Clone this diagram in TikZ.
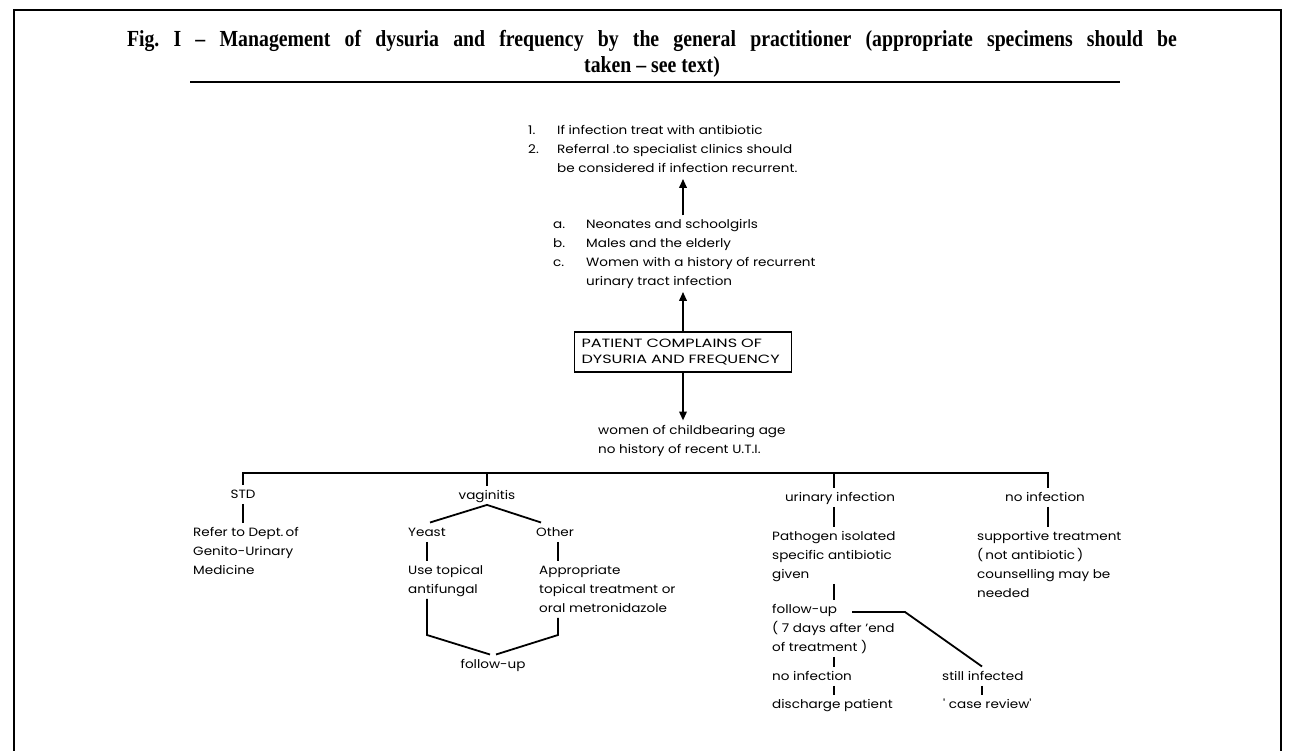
\documentclass[tikz,border=0pt]{standalone}
\usepackage{fontspec}
\setmainfont{Liberation Serif}
\newfontfamily\bodyfont[FakeStretch=1.13]{Poppins}
\newfontfamily\capsfont[FakeStretch=1.34]{Poppins}
\newfontfamily\titlefont[FakeStretch=0.86]{Liberation Serif}
\usetikzlibrary{arrows.meta,calc}
\frenchspacing
\tikzset{
  txt/.style={inner sep=0pt, font=\bodyfont\fontsize{12}{19}\selectfont},
  ln/.style={line width=1.8pt},
  arr/.style={line width=1.9pt, -{Triangle[length=9pt,width=7.5pt]}},
  framestyle/.style={line width=2.5pt},
  titlestyle/.style={inner sep=0pt, anchor=base, font=\titlefont\bfseries\fontsize{23}{27}\selectfont},
}
\newcommand\tb[1]{\begin{tabular}[t]{@{}l@{}}#1\end{tabular}}
\begin{document}
\begin{tikzpicture}[x=1pt,y=-1pt]
\useasboundingbox (0,0) rectangle (1293,751);
\draw[framestyle] (14,751) -- (14,10) -- (1281,10) -- (1281,751);
\node[titlestyle] (t1) at (652,47) {\makebox[1050pt][s]{Fig. I – Management of dysuria and frequency by the general practitioner (appropriate specimens should be}};
\node[titlestyle] (t2) at (652,73) {taken – see text)};
\draw[line width=2.5pt] (190,82) -- (1120,82);

\node[txt, anchor=base west] (l1) at (528,135) {\begin{tabular}[t]{@{}p{29pt}@{}l@{}}1. & If infection treat with antibiotic\\ 2. & Referral .to specialist clinics should\\ & be considered if infection recurrent.\end{tabular}};
\node[txt, anchor=base west] (l2) at (553,229) {\begin{tabular}[t]{@{}p{33pt}@{}l@{}}a. & Neonates and schoolgirls\\ b. & Males and the elderly\\ c. & Women with a history of recurrent\\ & urinary tract infection\end{tabular}};
\node[draw, line width=1.7pt, inner xsep=7pt, inner ysep=0pt, minimum height=40pt, text width=203pt, align=left, font=\capsfont\fontsize{12}{16}\selectfont] (box) at (683,352) {PATIENT COMPLAINS OF\\DYSURIA AND FREQUENCY};
\node[txt, anchor=base west] (wom) at (598,434) {\tb{women of childbearing age\\no history of recent U.T.I.}};

\draw[arr] (box.north) -- (l2.south -| box.north);
\draw[arr] (l2.north -| box.north) -- (l1.south -| box.north);
\draw[arr] (box.south) -- (wom.north -| box.south);

\coordinate (bus) at (0,473);
\coordinate (cU) at (834,0);
\coordinate (cN) at (1048,0);
\coordinate (cY) at (427,0);
\coordinate (cO) at (558,0);
\coordinate (vY) at (430,0);
\coordinate (vO) at (541,0);
\coordinate (cR) at (982,0);
\coordinate (yk) at (0,635);

\node[txt, anchor=base] (std) at (243,498) {\tb{STD}};
\node[txt, anchor=base] (vag) at (487,499) {\tb{vaginitis}};
\node[txt, anchor=base] (uri) at (840,501) {\tb{urinary infection}};
\node[txt, anchor=base] (noinf) at (1045,501) {\tb{no infection}};
\draw[ln] (std.north) -- (std.north |- bus) -- (cN |- bus) -- (cN |- noinf.north);
\draw[ln] (vag.north) -- (vag.north |- bus);
\draw[ln] (cU |- uri.north) -- (cU |- bus);

\node[txt, anchor=base west] (refer) at (193,536) {\tb{Refer to Dept.\,of\\Genito-Urinary\\Medicine}};
\draw[ln] (std.south) -- (std.south |- refer.north);

\node[txt, anchor=base west] (yeast) at (408,536) {\tb{Yeast}};
\node[txt, anchor=base west] (other) at (536,536) {\tb{Other}};
\draw[ln] (vY |- yeast.north) -- (vag.south) -- (vO |- other.north);
\node[txt, anchor=base west] (use) at (408,574) {\tb{Use topical\\antifungal}};
\node[txt, anchor=base west] (appr) at (539,574) {\tb{Appropriate\\topical treatment or\\oral metronidazole}};
\draw[ln] (cY |- yeast.south) -- (cY |- use.north);
\draw[ln] (cO |- other.south) -- (cO |- appr.north);
\node[txt, anchor=base] (fu) at (493,668) {\tb{follow-up}};
\draw[ln] (cY |- use.south) -- (cY |- yk) -- ([xshift=-3pt]fu.north);
\draw[ln] (cO |- appr.south) -- (cO |- yk) -- ([xshift=3pt]fu.north);

\node[txt, anchor=base west] (path) at (772,540) {\tb{Pathogen isolated\\specific antibiotic\\given}};
\draw[ln] (cU |- uri.south) -- (cU |- path.north);
\node[txt, anchor=base west] (fu2) at (772,613) {\tb{follow-up\\( 7 days after ’end\\of treatment )}};
\draw[ln] (cU |- path.south) -- (cU |- fu2.north);
\node[txt, anchor=base west] (ni2) at (772,680) {\tb{no infection}};
\draw[ln] (cU |- fu2.south) -- (cU |- ni2.north);
\node[txt, anchor=base west] (dis) at (772,708) {\tb{discharge patient}};
\draw[ln] (cU |- ni2.south) -- (cU |- dis.north);
\node[txt, anchor=base west] (still) at (942,680) {\tb{still infected}};
\node[txt, anchor=base west] (case) at (943,708) {\tb{' case review'}};
\draw[ln] (cR |- still.south) -- (cR |- case.north);
\coordinate (fa) at (852,612);
\coordinate (fb) at (905,612);
\draw[ln] (fa) -- (fb) -- (cR |- still.north);

\node[txt, anchor=base west] (supp) at (977,540) {\tb{supportive treatment\\(\,not antibiotic\,)\\counselling may be\\needed}};
\draw[ln] (cN |- noinf.south) -- (cN |- supp.north);
\end{tikzpicture}
\end{document}
